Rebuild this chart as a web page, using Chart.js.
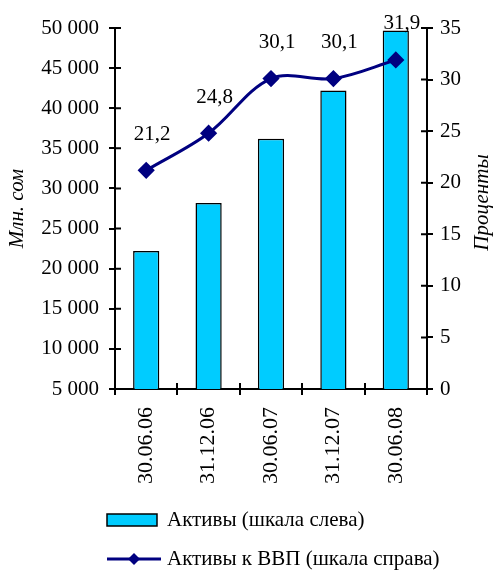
<!DOCTYPE html>
<html><head><meta charset="utf-8">
<script src="https://cdn.jsdelivr.net/npm/chart.js@4/dist/chart.umd.min.js"></script>
<style>html,body{margin:0;padding:0;background:#fff}</style>
</head><body>
<canvas id="c" width="495" height="570" style="display:block;width:495px;height:570px"></canvas>
<script>
const categories = ['30.06.06', '31.12.06', '30.06.07', '31.12.07', '30.06.08'];
const assets = [22200, 28200, 36200, 42200, 49700];
const assetsToGdp = [21.2, 24.8, 30.1, 30.1, 31.9];
const seriesNames = ['Активы (шкала слева)', 'Активы к ВВП (шкала справа)'];
const axisTitles = ['Млн. сом', 'Проценты'];
const leftRange = [5000, 50000, 5000];
const rightRange = [0, 35, 5];

const FONT = '"Liberation Serif", "Times New Roman", serif';
const BAR_FILL = '#00CCFF';
const LINE_COL = '#000080';

function fmtThousands(v) {
  return String(Math.round(v)).replace(/\B(?=(\d{3})+(?!\d))/g, ' ');
}

const innerTicks = {
  id: 'innerTicks',
  afterDraw(chart) {
    const ctx = chart.ctx, a = chart.chartArea;
    ctx.save();
    ctx.strokeStyle = '#000';
    ctx.lineWidth = 2;
    ctx.beginPath();
    const yl = chart.scales.y, yr = chart.scales.y1, x = chart.scales.x;
    yl.ticks.forEach((t, i) => { const p = yl.getPixelForTick(i); ctx.moveTo(a.left, p); ctx.lineTo(a.left + 6, p); });
    yr.ticks.forEach((t, i) => { const p = yr.getPixelForTick(i); ctx.moveTo(a.right, p); ctx.lineTo(a.right - 6, p); });
    const n = categories.length, w = (x.right - x.left) / n;
    for (let i = 0; i <= n; i++) { const p = Math.round(x.left + i * w); ctx.moveTo(p, a.bottom); ctx.lineTo(p, a.bottom - 6); }
    ctx.stroke();
    // right axis title, reading bottom to top
    ctx.save();
    ctx.translate(a.right + 55, (a.top + a.bottom) / 2 - 6);
    ctx.rotate(-Math.PI / 2);
    ctx.font = 'italic 21px ' + FONT;
    ctx.fillStyle = '#000';
    ctx.textAlign = 'center';
    ctx.textBaseline = 'middle';
    ctx.fillText(axisTitles[1], 0, 0);
    ctx.restore();
    ctx.restore();
  }
};

const pointLabels = {
  id: 'pointLabels',
  afterDatasetsDraw(chart) {
    const ctx = chart.ctx;
    const meta = chart.getDatasetMeta(0);
    ctx.save();
    ctx.font = '21px ' + FONT;
    ctx.fillStyle = '#000';
    ctx.textAlign = 'center';
    ctx.textBaseline = 'middle';
    meta.data.forEach((pt, i) => {
      ctx.fillText(assetsToGdp[i].toFixed(1).replace('.', ','), pt.x + 6, pt.y - 36);
    });
    ctx.restore();
  }
};

const customLegend = {
  id: 'customLegend',
  afterDraw(chart) {
    const ctx = chart.ctx, a = chart.chartArea;
    const x0 = a.left - 8;
    const y1 = 520, y2 = 559;
    ctx.save();
    ctx.fillStyle = BAR_FILL;
    ctx.fillRect(x0, y1 - 6, 50, 12);
    ctx.strokeStyle = '#000';
    ctx.lineWidth = 1.5;
    ctx.strokeRect(x0, y1 - 6, 50, 12);
    ctx.strokeStyle = LINE_COL;
    ctx.lineWidth = 3;
    ctx.beginPath(); ctx.moveTo(x0, y2); ctx.lineTo(x0 + 54, y2); ctx.stroke();
    ctx.fillStyle = LINE_COL;
    ctx.beginPath();
    const cx = x0 + 27, r = 6;
    ctx.moveTo(cx, y2 - r); ctx.lineTo(cx + r, y2); ctx.lineTo(cx, y2 + r); ctx.lineTo(cx - r, y2); ctx.closePath();
    ctx.fill();
    ctx.fillStyle = '#000';
    ctx.font = '21px ' + FONT;
    ctx.textBaseline = 'middle';
    ctx.textAlign = 'left';
    ctx.fillText(seriesNames[0], x0 + 60, y1);
    ctx.fillText(seriesNames[1], x0 + 60, y2);
    ctx.restore();
  }
};

new Chart(document.getElementById('c'), {
  data: {
    labels: categories,
    datasets: [
      {
        type: 'line', label: seriesNames[1], data: assetsToGdp, yAxisID: 'y1',
        borderColor: LINE_COL, backgroundColor: LINE_COL, borderWidth: 3,
        tension: 0.35, pointStyle: 'rectRot', pointRadius: 6.5, pointHoverRadius: 6.5,
        pointBackgroundColor: LINE_COL, pointBorderColor: LINE_COL, order: 0
      },
      {
        type: 'bar', label: seriesNames[0], data: assets, yAxisID: 'y',
        backgroundColor: BAR_FILL, borderColor: '#000', borderWidth: 1.5,
        categoryPercentage: 1, barPercentage: 0.42, order: 1
      }
    ]
  },
  options: {
    responsive: false,
    animation: false,
    layout: { padding: { top: 28, left: 0, right: 0, bottom: 0 } },
    plugins: { legend: { display: false }, tooltip: { enabled: false } },
    scales: {
      x: {
        offset: true,
        grid: { offset: true, drawOnChartArea: false, tickLength: 6, color: '#000', lineWidth: 2 },
        border: { color: '#000', width: 2 },
        ticks: { color: '#000', font: { family: FONT, size: 22 }, minRotation: 90, maxRotation: 90, padding: 12, autoSkip: false },
        afterFit(s) { s.height = 181; }
      },
      y: {
        position: 'left', min: leftRange[0], max: leftRange[1],
        grid: { drawOnChartArea: false, tickLength: 6, color: '#000', lineWidth: 2 },
        border: { color: '#000', width: 2 },
        ticks: { stepSize: leftRange[2], color: '#000', font: { family: FONT, size: 21 }, padding: 10, callback: v => fmtThousands(v) },
        title: { display: true, text: axisTitles[0], color: '#000', font: { family: FONT, size: 21, style: 'italic' }, padding: { top: 5, bottom: 0 } },
        afterFit(s) { s.width = 115; }
      },
      y1: {
        position: 'right', min: rightRange[0], max: rightRange[1],
        grid: { drawOnChartArea: false, tickLength: 6, color: '#000', lineWidth: 2 },
        border: { color: '#000', width: 2 },
        ticks: { stepSize: rightRange[2], color: '#000', font: { family: FONT, size: 21 }, padding: 7 },
        afterFit(s) { s.width = 68; }
      }
    }
  },
  plugins: [innerTicks, pointLabels, customLegend]
});
</script>
</body></html>
